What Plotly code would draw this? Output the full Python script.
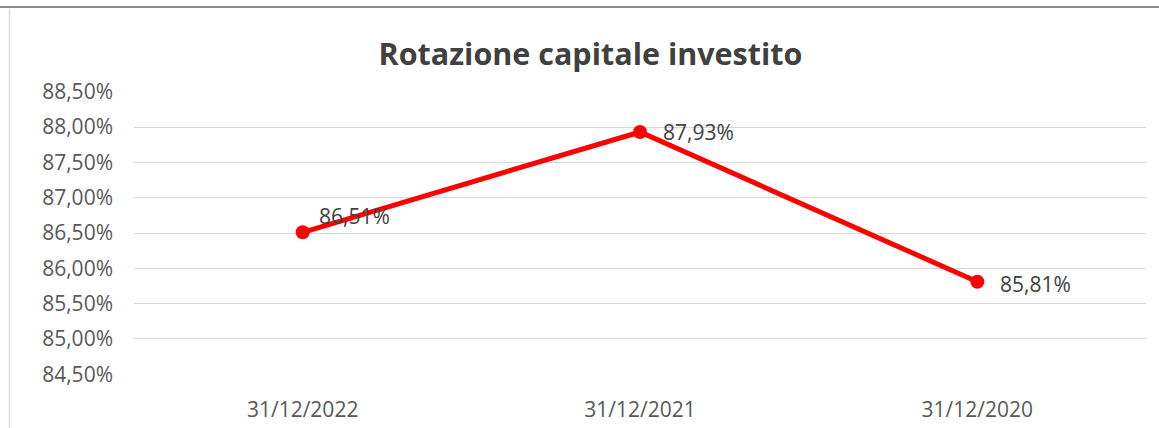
import plotly.graph_objects as go

categories = ["31/12/2022", "31/12/2021", "31/12/2020"]
values = [86.51, 87.93, 85.81]
y_ticks = [84.5, 85.0, 85.5, 86.0, 86.5, 87.0, 87.5, 88.0, 88.5]
title_text = "Rotazione capitale investito"

W, H = 1159, 428
L, R, T, B = 134, 13, 91, 53
FONT = "Open Sans"
FS = 21

# label offsets in px (style only)
label_shift = [(14, 16), (21, 0), (21, -2)]

def fmt(v):
    return f"{v:.2f}".replace(".", ",") + "%"

fig = go.Figure()
fig.add_trace(go.Scatter(
    x=categories, y=values,
    mode="lines+markers",
    line=dict(color="#FF0000", width=5),
    marker=dict(color="#FF0000", size=14),
    cliponaxis=False,
    showlegend=False,
))

annotations = []
for c, v, (dx, dy) in zip(categories, values, label_shift):
    annotations.append(dict(
        x=c, y=v, xref="x", yref="y", text=fmt(v), showarrow=False,
        xanchor="left", yanchor="middle", xshift=dx, yshift=dy,
        font=dict(family=FONT, size=FS, color="#404040"),
    ))

def px_x(p):
    return (p - L) / (W - L - R)

def px_y(p):
    return (H - B - p) / (H - T - B)

fig.update_layout(
    width=W, height=H,
    margin=dict(l=L, r=R, t=T, b=B, autoexpand=False),
    paper_bgcolor="white", plot_bgcolor="white",
    font=dict(family=FONT, color="#595959"),
    title=dict(text="<b>" + title_text + "</b>", x=px_x(590.5), xref="paper", xanchor="center",
               y=1 - 54 / H, yanchor="middle", automargin=False,
               font=dict(family=FONT, size=30.5, color="#404040")),
    xaxis=dict(type="category", range=[-0.5, 2.5], showgrid=False, showline=False,
               zeroline=False, automargin=False,
               tickfont=dict(family=FONT, size=FS, color="#595959"),
               ticks="", ticklabelstandoff=20),
    yaxis=dict(range=[84.49, 88.51], tickvals=y_ticks, ticktext=[fmt(t) for t in y_ticks],
               showgrid=True, gridcolor="#D9D9D9", gridwidth=1.3, zeroline=False,
               showline=False, ticks="", automargin=False,
               tickfont=dict(family=FONT, size=FS, color="#595959"),
               ticklabelstandoff=20),
    annotations=annotations,
    shapes=[
        dict(type="line", xref="paper", yref="paper", x0=px_x(0), x1=px_x(W),
             y0=px_y(7), y1=px_y(7), line=dict(color="#8C8C8C", width=2)),
        dict(type="line", xref="paper", yref="paper", x0=px_x(9.5), x1=px_x(9.5),
             y0=px_y(9), y1=px_y(H), line=dict(color="#D9D9D9", width=1.5)),
    ],
)

fig.write_html("out.html", config={"displayModeBar": False},
               post_script="document.body.style.margin='0';document.body.style.overflow='hidden';")
